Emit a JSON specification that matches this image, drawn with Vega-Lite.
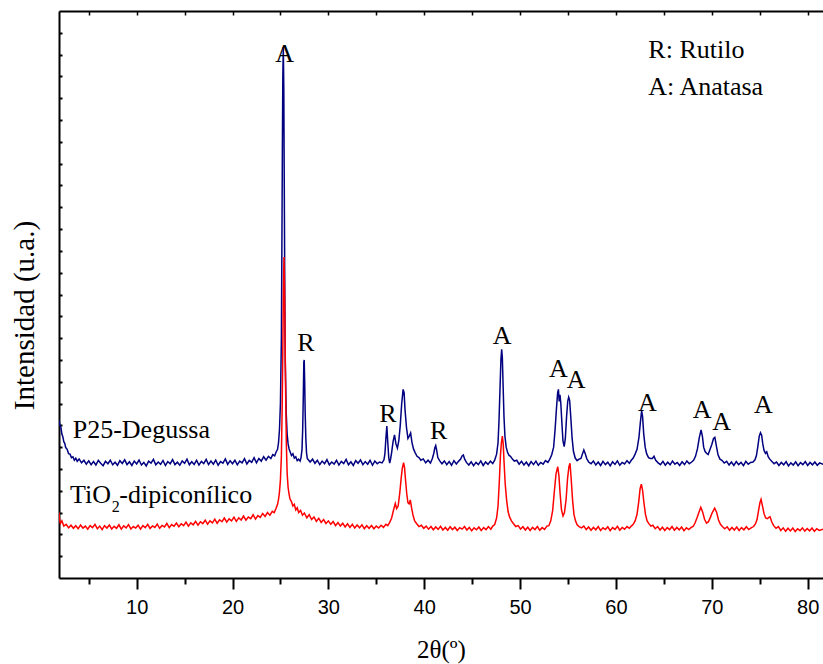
{
  "$schema": "https://vega.github.io/schema/vega-lite/v6.json",
  "width": 764,
  "height": 567,
  "autosize": "none",
  "padding": {"left": 59, "top": 11, "right": 0, "bottom": 86},
  "background": "white",
  "config": {"view": {"stroke": null}, "axis": {"titleFont": "Liberation Serif", "titleFontWeight": "normal", "titleColor": "black"}, "font": "Liberation Serif"},
  "datasets": {
    "p25": [
      {"x":1.9,"y":725},{"x":2.0,"y":700},{"x":2.1,"y":690},{"x":2.2,"y":660},{"x":2.3,"y":648},{"x":2.4,"y":625},{"x":2.5,"y":618},{"x":2.6,"y":598},{"x":2.75,"y":590},{"x":2.9,"y":570},{"x":3.05,"y":568},{"x":3.2,"y":552},{"x":3.35,"y":556},{"x":3.5,"y":540},{"x":3.65,"y":549},{"x":3.8,"y":535},{"x":4.0,"y":546},{"x":4.25,"y":528},{"x":4.5,"y":540},{"x":4.75,"y":522},{"x":5.0,"y":537},{"x":5.25,"y":520},{"x":5.5,"y":534},{"x":5.75,"y":518},{"x":6.0,"y":539},{"x":6.25,"y":526},{"x":6.5,"y":515},{"x":6.75,"y":535},{"x":7.0,"y":524},{"x":7.25,"y":540},{"x":7.5,"y":519},{"x":7.75,"y":531},{"x":8.0,"y":517},{"x":8.25,"y":538},{"x":8.5,"y":525},{"x":8.75,"y":542},{"x":9.0,"y":520},{"x":9.25,"y":533},{"x":9.5,"y":516},{"x":9.75,"y":536},{"x":10.0,"y":523},{"x":10.25,"y":541},{"x":10.5,"y":518},{"x":10.75,"y":530},{"x":11.0,"y":514},{"x":11.25,"y":536},{"x":11.5,"y":527},{"x":11.75,"y":544},{"x":12.0,"y":519},{"x":12.25,"y":532},{"x":12.5,"y":521},{"x":12.75,"y":539},{"x":13.0,"y":516},{"x":13.25,"y":534},{"x":13.5,"y":524},{"x":13.75,"y":543},{"x":14.0,"y":520},{"x":14.25,"y":531},{"x":14.5,"y":517},{"x":14.75,"y":537},{"x":15.0,"y":526},{"x":15.25,"y":545},{"x":15.5,"y":519},{"x":15.75,"y":533},{"x":16.0,"y":521},{"x":16.25,"y":540},{"x":16.5,"y":518},{"x":16.75,"y":535},{"x":17.0,"y":525},{"x":17.25,"y":544},{"x":17.5,"y":520},{"x":17.75,"y":536},{"x":18.0,"y":522},{"x":18.25,"y":541},{"x":18.5,"y":517},{"x":18.75,"y":534},{"x":19.0,"y":527},{"x":19.25,"y":546},{"x":19.5,"y":521},{"x":19.75,"y":538},{"x":20.0,"y":524},{"x":20.25,"y":540},{"x":20.5,"y":519},{"x":20.75,"y":536},{"x":21.0,"y":528},{"x":21.25,"y":547},{"x":21.5,"y":523},{"x":21.75,"y":539},{"x":22.0,"y":530},{"x":22.25,"y":552},{"x":22.5,"y":528},{"x":22.75,"y":548},{"x":23.0,"y":536},{"x":23.25,"y":556},{"x":23.5,"y":540},{"x":23.75,"y":558},{"x":24.0,"y":548},{"x":24.2,"y":566},{"x":24.4,"y":560},{"x":24.55,"y":578},{"x":24.7,"y":590},{"x":24.8,"y":620},{"x":24.9,"y":680},{"x":25.0,"y":800},{"x":25.1,"y":1100},{"x":25.15,"y":1500},{"x":25.2,"y":1950},{"x":25.25,"y":2300},{"x":25.3,"y":2435},{"x":25.35,"y":2250},{"x":25.4,"y":1800},{"x":25.45,"y":1350},{"x":25.5,"y":1000},{"x":25.6,"y":760},{"x":25.7,"y":660},{"x":25.8,"y":615},{"x":25.9,"y":592},{"x":26.0,"y":580},{"x":26.15,"y":562},{"x":26.3,"y":570},{"x":26.45,"y":550},{"x":26.6,"y":556},{"x":26.75,"y":538},{"x":26.9,"y":545},{"x":27.05,"y":536},{"x":27.15,"y":552},{"x":27.25,"y":590},{"x":27.32,"y":680},{"x":27.38,"y":820},{"x":27.44,"y":990},{"x":27.48,"y":1000},{"x":27.53,"y":900},{"x":27.58,"y":760},{"x":27.65,"y":640},{"x":27.72,"y":575},{"x":27.8,"y":548},{"x":27.95,"y":540},{"x":28.1,"y":532},{"x":28.35,"y":545},{"x":28.6,"y":526},{"x":28.85,"y":540},{"x":29.1,"y":520},{"x":29.35,"y":536},{"x":29.6,"y":524},{"x":29.85,"y":543},{"x":30.1,"y":519},{"x":30.35,"y":532},{"x":30.6,"y":522},{"x":30.85,"y":540},{"x":31.1,"y":518},{"x":31.35,"y":535},{"x":31.6,"y":525},{"x":31.85,"y":544},{"x":32.1,"y":519},{"x":32.35,"y":533},{"x":32.6,"y":516},{"x":32.85,"y":538},{"x":33.1,"y":526},{"x":33.35,"y":541},{"x":33.6,"y":520},{"x":33.85,"y":534},{"x":34.1,"y":522},{"x":34.35,"y":540},{"x":34.6,"y":517},{"x":34.85,"y":536},{"x":35.1,"y":524},{"x":35.35,"y":532},{"x":35.6,"y":528},{"x":35.8,"y":542},{"x":35.9,"y":570},{"x":36.0,"y":640},{"x":36.1,"y":697},{"x":36.2,"y":620},{"x":36.3,"y":552},{"x":36.4,"y":527},{"x":36.5,"y":548},{"x":36.6,"y":575},{"x":36.75,"y":625},{"x":36.9,"y":656},{"x":37.05,"y":615},{"x":37.2,"y":596},{"x":37.35,"y":630},{"x":37.5,"y":700},{"x":37.65,"y":800},{"x":37.8,"y":865},{"x":37.9,"y":850},{"x":38.0,"y":770},{"x":38.15,"y":690},{"x":38.3,"y":640},{"x":38.45,"y":652},{"x":38.58,"y":665},{"x":38.72,"y":622},{"x":38.88,"y":592},{"x":39.05,"y":575},{"x":39.25,"y":558},{"x":39.45,"y":552},{"x":39.65,"y":540},{"x":39.9,"y":546},{"x":40.15,"y":528},{"x":40.4,"y":540},{"x":40.65,"y":527},{"x":40.85,"y":548},{"x":41.0,"y":572},{"x":41.1,"y":596},{"x":41.2,"y":607},{"x":41.3,"y":585},{"x":41.42,"y":552},{"x":41.6,"y":538},{"x":41.85,"y":524},{"x":42.1,"y":537},{"x":42.35,"y":520},{"x":42.6,"y":534},{"x":42.85,"y":517},{"x":43.1,"y":538},{"x":43.35,"y":523},{"x":43.6,"y":536},{"x":43.8,"y":545},{"x":43.95,"y":560},{"x":44.08,"y":564},{"x":44.22,"y":545},{"x":44.4,"y":530},{"x":44.65,"y":518},{"x":44.9,"y":533},{"x":45.15,"y":515},{"x":45.4,"y":530},{"x":45.65,"y":520},{"x":45.9,"y":537},{"x":46.15,"y":516},{"x":46.4,"y":532},{"x":46.65,"y":521},{"x":46.9,"y":536},{"x":47.15,"y":525},{"x":47.35,"y":540},{"x":47.55,"y":568},{"x":47.7,"y":620},{"x":47.8,"y":720},{"x":47.9,"y":860},{"x":48.0,"y":1000},{"x":48.08,"y":1049},{"x":48.15,"y":1010},{"x":48.23,"y":880},{"x":48.32,"y":740},{"x":48.42,"y":650},{"x":48.55,"y":600},{"x":48.7,"y":575},{"x":48.85,"y":562},{"x":49.0,"y":558},{"x":49.2,"y":545},{"x":49.4,"y":536},{"x":49.65,"y":540},{"x":49.9,"y":522},{"x":50.15,"y":535},{"x":50.4,"y":518},{"x":50.65,"y":532},{"x":50.9,"y":515},{"x":51.15,"y":534},{"x":51.4,"y":520},{"x":51.65,"y":536},{"x":51.9,"y":517},{"x":52.15,"y":530},{"x":52.4,"y":522},{"x":52.65,"y":538},{"x":52.9,"y":530},{"x":53.1,"y":545},{"x":53.3,"y":565},{"x":53.5,"y":600},{"x":53.65,"y":680},{"x":53.8,"y":780},{"x":53.92,"y":850},{"x":54.0,"y":865},{"x":54.08,"y":810},{"x":54.16,"y":840},{"x":54.25,"y":800},{"x":54.35,"y":720},{"x":54.47,"y":630},{"x":54.6,"y":602},{"x":54.72,"y":640},{"x":54.85,"y":740},{"x":54.97,"y":810},{"x":55.07,"y":829},{"x":55.17,"y":815},{"x":55.3,"y":730},{"x":55.43,"y":640},{"x":55.57,"y":580},{"x":55.75,"y":550},{"x":55.95,"y":538},{"x":56.15,"y":545},{"x":56.35,"y":548},{"x":56.5,"y":568},{"x":56.65,"y":587},{"x":56.8,"y":570},{"x":56.95,"y":548},{"x":57.15,"y":532},{"x":57.4,"y":524},{"x":57.65,"y":536},{"x":57.9,"y":518},{"x":58.15,"y":532},{"x":58.4,"y":516},{"x":58.65,"y":535},{"x":58.9,"y":520},{"x":59.15,"y":531},{"x":59.4,"y":514},{"x":59.65,"y":533},{"x":59.9,"y":521},{"x":60.15,"y":537},{"x":60.4,"y":517},{"x":60.65,"y":530},{"x":60.9,"y":523},{"x":61.15,"y":538},{"x":61.4,"y":526},{"x":61.6,"y":540},{"x":61.8,"y":550},{"x":62.0,"y":568},{"x":62.2,"y":590},{"x":62.4,"y":645},{"x":62.55,"y":715},{"x":62.68,"y":766},{"x":62.78,"y":740},{"x":62.9,"y":660},{"x":63.05,"y":600},{"x":63.2,"y":570},{"x":63.4,"y":552},{"x":63.6,"y":548},{"x":63.8,"y":548},{"x":63.97,"y":558},{"x":64.15,"y":540},{"x":64.4,"y":528},{"x":64.65,"y":520},{"x":64.9,"y":535},{"x":65.15,"y":517},{"x":65.4,"y":531},{"x":65.65,"y":519},{"x":65.9,"y":536},{"x":66.15,"y":522},{"x":66.4,"y":530},{"x":66.65,"y":516},{"x":66.9,"y":533},{"x":67.15,"y":520},{"x":67.4,"y":537},{"x":67.65,"y":524},{"x":67.9,"y":532},{"x":68.1,"y":540},{"x":68.3,"y":558},{"x":68.5,"y":592},{"x":68.7,"y":645},{"x":68.88,"y":679},{"x":69.02,"y":650},{"x":69.15,"y":600},{"x":69.3,"y":580},{"x":69.45,"y":572},{"x":69.62,"y":566},{"x":69.8,"y":588},{"x":70.0,"y":612},{"x":70.18,"y":640},{"x":70.32,"y":645},{"x":70.48,"y":605},{"x":70.65,"y":565},{"x":70.85,"y":545},{"x":71.05,"y":540},{"x":71.3,"y":527},{"x":71.55,"y":535},{"x":71.8,"y":518},{"x":72.05,"y":532},{"x":72.3,"y":516},{"x":72.55,"y":534},{"x":72.8,"y":520},{"x":73.05,"y":530},{"x":73.3,"y":515},{"x":73.55,"y":535},{"x":73.8,"y":522},{"x":74.05,"y":530},{"x":74.3,"y":532},{"x":74.5,"y":542},{"x":74.65,"y":560},{"x":74.8,"y":602},{"x":74.95,"y":650},{"x":75.08,"y":666},{"x":75.2,"y":655},{"x":75.32,"y":615},{"x":75.45,"y":585},{"x":75.6,"y":572},{"x":75.73,"y":579},{"x":75.88,"y":556},{"x":76.05,"y":545},{"x":76.25,"y":535},{"x":76.5,"y":524},{"x":76.75,"y":532},{"x":77.0,"y":516},{"x":77.25,"y":530},{"x":77.5,"y":519},{"x":77.75,"y":534},{"x":78.0,"y":514},{"x":78.25,"y":528},{"x":78.5,"y":518},{"x":78.75,"y":533},{"x":79.0,"y":515},{"x":79.25,"y":529},{"x":79.5,"y":520},{"x":79.75,"y":534},{"x":80.0,"y":516},{"x":80.25,"y":530},{"x":80.5,"y":519},{"x":80.75,"y":532},{"x":81.0,"y":517},{"x":81.25,"y":528},{"x":81.6,"y":521}
    ],
    "tio2": [
      {"x":1.9,"y":300},{"x":1.95,"y":270},{"x":2.05,"y":250},{"x":2.2,"y":262},{"x":2.4,"y":238},{"x":2.65,"y":246},{"x":2.9,"y":230},{"x":3.15,"y":242},{"x":3.4,"y":228},{"x":3.65,"y":240},{"x":3.9,"y":226},{"x":4.15,"y":243},{"x":4.4,"y":229},{"x":4.65,"y":238},{"x":4.9,"y":224},{"x":5.15,"y":240},{"x":5.4,"y":231},{"x":5.65,"y":246},{"x":5.9,"y":226},{"x":6.15,"y":238},{"x":6.4,"y":222},{"x":6.65,"y":240},{"x":6.9,"y":229},{"x":7.15,"y":243},{"x":7.4,"y":225},{"x":7.65,"y":237},{"x":7.9,"y":228},{"x":8.15,"y":244},{"x":8.4,"y":224},{"x":8.65,"y":239},{"x":8.9,"y":230},{"x":9.15,"y":245},{"x":9.4,"y":225},{"x":9.65,"y":236},{"x":9.9,"y":229},{"x":10.15,"y":242},{"x":10.4,"y":224},{"x":10.65,"y":240},{"x":10.9,"y":231},{"x":11.15,"y":246},{"x":11.4,"y":227},{"x":11.65,"y":239},{"x":11.9,"y":232},{"x":12.15,"y":247},{"x":12.4,"y":228},{"x":12.65,"y":241},{"x":12.9,"y":234},{"x":13.15,"y":250},{"x":13.4,"y":231},{"x":13.65,"y":245},{"x":13.9,"y":237},{"x":14.15,"y":252},{"x":14.4,"y":235},{"x":14.65,"y":249},{"x":14.9,"y":240},{"x":15.15,"y":256},{"x":15.4,"y":238},{"x":15.65,"y":253},{"x":15.9,"y":244},{"x":16.15,"y":260},{"x":16.4,"y":242},{"x":16.65,"y":258},{"x":16.9,"y":249},{"x":17.15,"y":265},{"x":17.4,"y":247},{"x":17.65,"y":262},{"x":17.9,"y":253},{"x":18.15,"y":270},{"x":18.4,"y":251},{"x":18.65,"y":267},{"x":18.9,"y":258},{"x":19.15,"y":275},{"x":19.4,"y":256},{"x":19.65,"y":271},{"x":19.9,"y":262},{"x":20.15,"y":279},{"x":20.4,"y":260},{"x":20.65,"y":276},{"x":20.9,"y":266},{"x":21.15,"y":284},{"x":21.4,"y":265},{"x":21.65,"y":280},{"x":21.9,"y":272},{"x":22.15,"y":290},{"x":22.4,"y":270},{"x":22.65,"y":286},{"x":22.9,"y":278},{"x":23.15,"y":296},{"x":23.4,"y":282},{"x":23.65,"y":300},{"x":23.9,"y":288},{"x":24.15,"y":306},{"x":24.35,"y":300},{"x":24.55,"y":320},{"x":24.7,"y":338},{"x":24.8,"y":360},{"x":24.9,"y":395},{"x":25.0,"y":450},{"x":25.1,"y":560},{"x":25.18,"y":780},{"x":25.25,"y":1050},{"x":25.31,"y":1320},{"x":25.37,"y":1472},{"x":25.43,"y":1330},{"x":25.49,"y":1080},{"x":25.55,"y":820},{"x":25.62,"y":610},{"x":25.7,"y":480},{"x":25.8,"y":415},{"x":25.9,"y":385},{"x":26.0,"y":362},{"x":26.15,"y":350},{"x":26.3,"y":330},{"x":26.45,"y":338},{"x":26.6,"y":312},{"x":26.75,"y":322},{"x":26.9,"y":300},{"x":27.1,"y":310},{"x":27.3,"y":288},{"x":27.5,"y":298},{"x":27.75,"y":276},{"x":28.0,"y":290},{"x":28.25,"y":268},{"x":28.5,"y":280},{"x":28.75,"y":260},{"x":29.0,"y":274},{"x":29.25,"y":255},{"x":29.5,"y":268},{"x":29.75,"y":250},{"x":30.0,"y":262},{"x":30.25,"y":246},{"x":30.5,"y":259},{"x":30.75,"y":240},{"x":31.0,"y":254},{"x":31.25,"y":238},{"x":31.5,"y":251},{"x":31.75,"y":234},{"x":32.0,"y":249},{"x":32.25,"y":232},{"x":32.5,"y":246},{"x":32.75,"y":229},{"x":33.0,"y":243},{"x":33.25,"y":230},{"x":33.5,"y":244},{"x":33.75,"y":226},{"x":34.0,"y":240},{"x":34.25,"y":228},{"x":34.5,"y":241},{"x":34.75,"y":226},{"x":35.0,"y":238},{"x":35.25,"y":229},{"x":35.5,"y":242},{"x":35.75,"y":232},{"x":36.0,"y":246},{"x":36.2,"y":240},{"x":36.4,"y":255},{"x":36.6,"y":275},{"x":36.8,"y":312},{"x":36.98,"y":342},{"x":37.12,"y":318},{"x":37.28,"y":330},{"x":37.45,"y":390},{"x":37.6,"y":460},{"x":37.72,"y":505},{"x":37.85,"y":529},{"x":37.95,"y":505},{"x":38.05,"y":450},{"x":38.18,"y":385},{"x":38.3,"y":345},{"x":38.42,"y":340},{"x":38.55,"y":358},{"x":38.68,"y":322},{"x":38.82,"y":290},{"x":39.0,"y":262},{"x":39.2,"y":250},{"x":39.45,"y":236},{"x":39.7,"y":242},{"x":39.95,"y":228},{"x":40.2,"y":238},{"x":40.45,"y":224},{"x":40.7,"y":236},{"x":40.95,"y":221},{"x":41.2,"y":234},{"x":41.45,"y":223},{"x":41.7,"y":237},{"x":41.95,"y":220},{"x":42.2,"y":232},{"x":42.45,"y":219},{"x":42.7,"y":235},{"x":42.95,"y":222},{"x":43.2,"y":233},{"x":43.45,"y":218},{"x":43.7,"y":231},{"x":43.95,"y":224},{"x":44.2,"y":236},{"x":44.45,"y":220},{"x":44.7,"y":232},{"x":44.95,"y":217},{"x":45.2,"y":230},{"x":45.45,"y":221},{"x":45.7,"y":234},{"x":45.95,"y":218},{"x":46.2,"y":231},{"x":46.45,"y":222},{"x":46.7,"y":236},{"x":46.95,"y":224},{"x":47.15,"y":238},{"x":47.35,"y":245},{"x":47.55,"y":275},{"x":47.7,"y":330},{"x":47.82,"y":430},{"x":47.95,"y":560},{"x":48.05,"y":620},{"x":48.15,"y":651},{"x":48.24,"y":615},{"x":48.33,"y":530},{"x":48.45,"y":430},{"x":48.6,"y":355},{"x":48.75,"y":305},{"x":48.9,"y":280},{"x":49.1,"y":262},{"x":49.3,"y":250},{"x":49.55,"y":236},{"x":49.8,"y":240},{"x":50.05,"y":224},{"x":50.3,"y":235},{"x":50.55,"y":220},{"x":50.8,"y":233},{"x":51.05,"y":218},{"x":51.3,"y":232},{"x":51.55,"y":222},{"x":51.8,"y":236},{"x":52.05,"y":219},{"x":52.3,"y":231},{"x":52.55,"y":223},{"x":52.8,"y":238},{"x":53.0,"y":240},{"x":53.2,"y":262},{"x":53.4,"y":310},{"x":53.58,"y":400},{"x":53.75,"y":478},{"x":53.93,"y":510},{"x":54.05,"y":470},{"x":54.18,"y":385},{"x":54.32,"y":312},{"x":54.48,"y":285},{"x":54.63,"y":300},{"x":54.8,"y":360},{"x":54.95,"y":455},{"x":55.1,"y":512},{"x":55.21,"y":526},{"x":55.33,"y":455},{"x":55.48,"y":355},{"x":55.62,"y":292},{"x":55.78,"y":262},{"x":55.95,"y":244},{"x":56.15,"y":236},{"x":56.4,"y":230},{"x":56.65,"y":238},{"x":56.9,"y":222},{"x":57.15,"y":234},{"x":57.4,"y":219},{"x":57.65,"y":232},{"x":57.9,"y":221},{"x":58.15,"y":236},{"x":58.4,"y":218},{"x":58.65,"y":230},{"x":58.9,"y":222},{"x":59.15,"y":235},{"x":59.4,"y":217},{"x":59.65,"y":231},{"x":59.9,"y":223},{"x":60.15,"y":237},{"x":60.4,"y":219},{"x":60.65,"y":232},{"x":60.9,"y":224},{"x":61.15,"y":236},{"x":61.4,"y":228},{"x":61.6,"y":238},{"x":61.8,"y":246},{"x":62.0,"y":262},{"x":62.2,"y":292},{"x":62.38,"y":350},{"x":62.52,"y":410},{"x":62.65,"y":430},{"x":62.78,"y":402},{"x":62.92,"y":345},{"x":63.08,"y":292},{"x":63.25,"y":262},{"x":63.45,"y":248},{"x":63.65,"y":238},{"x":63.85,"y":242},{"x":64.1,"y":226},{"x":64.35,"y":236},{"x":64.6,"y":220},{"x":64.85,"y":233},{"x":65.1,"y":218},{"x":65.35,"y":231},{"x":65.6,"y":222},{"x":65.85,"y":236},{"x":66.1,"y":219},{"x":66.35,"y":232},{"x":66.6,"y":221},{"x":66.85,"y":234},{"x":67.1,"y":217},{"x":67.35,"y":230},{"x":67.6,"y":222},{"x":67.85,"y":232},{"x":68.05,"y":236},{"x":68.25,"y":252},{"x":68.45,"y":275},{"x":68.65,"y":300},{"x":68.85,"y":324},{"x":69.05,"y":302},{"x":69.25,"y":268},{"x":69.45,"y":252},{"x":69.65,"y":258},{"x":69.85,"y":278},{"x":70.05,"y":300},{"x":70.3,"y":320},{"x":70.5,"y":302},{"x":70.7,"y":266},{"x":70.9,"y":246},{"x":71.1,"y":236},{"x":71.35,"y":226},{"x":71.6,"y":235},{"x":71.85,"y":219},{"x":72.1,"y":232},{"x":72.35,"y":220},{"x":72.6,"y":234},{"x":72.85,"y":218},{"x":73.1,"y":231},{"x":73.35,"y":221},{"x":73.6,"y":235},{"x":73.85,"y":222},{"x":74.1,"y":230},{"x":74.35,"y":236},{"x":74.55,"y":248},{"x":74.72,"y":268},{"x":74.88,"y":310},{"x":75.02,"y":345},{"x":75.14,"y":361},{"x":75.28,"y":332},{"x":75.45,"y":295},{"x":75.62,"y":275},{"x":75.8,"y":272},{"x":75.95,"y":278},{"x":76.08,"y":281},{"x":76.25,"y":258},{"x":76.45,"y":240},{"x":76.7,"y":228},{"x":76.95,"y":236},{"x":77.2,"y":218},{"x":77.45,"y":230},{"x":77.7,"y":214},{"x":77.95,"y":228},{"x":78.2,"y":216},{"x":78.45,"y":229},{"x":78.7,"y":213},{"x":78.95,"y":226},{"x":79.2,"y":217},{"x":79.45,"y":230},{"x":79.7,"y":215},{"x":79.95,"y":227},{"x":80.2,"y":216},{"x":80.45,"y":229},{"x":80.7,"y":214},{"x":80.95,"y":226},{"x":81.2,"y":218},{"x":81.6,"y":224}
    ],
    "letters": [
      {"x":25.43,"y":2366,"t":"A"},{"x":27.65,"y":1042,"t":"R"},{"x":36.22,"y":714,"t":"R"},{"x":41.51,"y":637,"t":"R"},{"x":48.12,"y":1073,"t":"A"},{"x":53.99,"y":923,"t":"A"},{"x":55.84,"y":873,"t":"A"},{"x":63.27,"y":766,"t":"A"},{"x":68.98,"y":735,"t":"A"},{"x":71.02,"y":679,"t":"A"},{"x":75.38,"y":758,"t":"A"}
    ],
    "notes": [
      {"x":63.38,"y":2383,"t":"R: Rutilo"},{"x":63.38,"y":2215,"t":"A: Anatasa"},{"x":3.33,"y":641,"t":"P25-Degussa"},{"x":3.05,"y":342,"t":"TiO"},{"x":8.19,"y":342,"t":"-dipiconílico"}
    ],
    "sub": [
      {"x":7.4,"y":303,"t":"2"}
    ]
  },
  "resolve": {"axis": {"x": "independent", "y": "independent"}},
  "layer": [
    {
      "data": {"name": "p25"},
      "mark": {"type": "line", "color": "#000080", "strokeWidth": 1.5, "clip": true},
      "encoding": {
        "x": {"field": "x", "type": "quantitative",
          "scale": {"domain": [1.9, 81.6], "nice": false, "zero": false},
          "axis": {"orient": "bottom", "values": [5,10,15,20,25,30,35,40,45,50,55,60,65,70,75,80],
            "labelExpr": "datum.value % 10 === 0 ? datum.label : ''",
            "tickSize": {"condition": {"test": "datum.value % 10 === 0", "value": 11}, "value": 6},
            "tickWidth": 2, "tickColor": "black", "domainWidth": 2, "domainColor": "black",
            "labelFont": "Liberation Sans", "labelFontSize": 20, "labelColor": "black", "labelPadding": 8,
            "grid": false, "title": "2θ(º)", "titleFont": "Liberation Serif", "titleFontSize": 25,
            "titleFontWeight": "normal", "titleColor": "black", "titlePadding": 20}},
        "y": {"field": "y", "type": "quantitative",
          "scale": {"domain": [0, 2600], "nice": false, "zero": false},
          "axis": {"orient": "left", "values": [100,200,300,400,500,600,700,800,900,1000,1100,1200,1300,1400,1500,1600,1700,1800,1900,2000,2100,2200,2300,2400,2500],
            "labels": false, "tickSize": -3, "tickWidth": 2, "tickColor": "black", "domainWidth": 2, "domainColor": "black",
            "grid": false, "title": "Intensidad (u.a.)", "titleFont": "Liberation Serif", "titleFontSize": 29,
            "titleFontWeight": "normal", "titleColor": "black", "titleAngle": 270, "titleX": -35, "titleY": 304,
            "titleAlign": "center", "titleBaseline": "middle"}}
      }
    },
    {
      "data": {"name": "tio2"},
      "mark": {"type": "line", "color": "#ff0000", "strokeWidth": 1.5, "clip": true},
      "encoding": {
        "x": {"field": "x", "type": "quantitative", "axis": null},
        "y": {"field": "y", "type": "quantitative", "axis": null}
      }
    },
    {
      "data": {"name": "letters"},
      "mark": {"type": "text", "font": "Liberation Serif", "fontSize": 26, "align": "center", "baseline": "alphabetic", "color": "black"},
      "encoding": {
        "x": {"field": "x", "type": "quantitative",
          "axis": {"orient": "top", "values": [5,10,15,20,25,30,35,40,45,50,55,60,65,70,75,80], "labels": false,
            "tickSize": -4, "tickWidth": 1.5, "tickColor": "black", "domainWidth": 2, "domainColor": "black", "grid": false, "title": null}},
        "y": {"field": "y", "type": "quantitative", "axis": null},
        "text": {"field": "t"}
      }
    },
    {
      "data": {"name": "notes"},
      "mark": {"type": "text", "font": "Liberation Serif", "fontSize": 26, "align": "left", "baseline": "alphabetic", "color": "black"},
      "encoding": {
        "x": {"field": "x", "type": "quantitative", "axis": null},
        "y": {"field": "y", "type": "quantitative", "axis": null},
        "text": {"field": "t"}
      }
    },
    {
      "data": {"name": "sub"},
      "mark": {"type": "text", "font": "Liberation Serif", "fontSize": 16, "align": "left", "baseline": "alphabetic", "color": "black"},
      "encoding": {
        "x": {"field": "x", "type": "quantitative", "axis": null},
        "y": {"field": "y", "type": "quantitative", "axis": null},
        "text": {"field": "t"}
      }
    }
  ]
}
